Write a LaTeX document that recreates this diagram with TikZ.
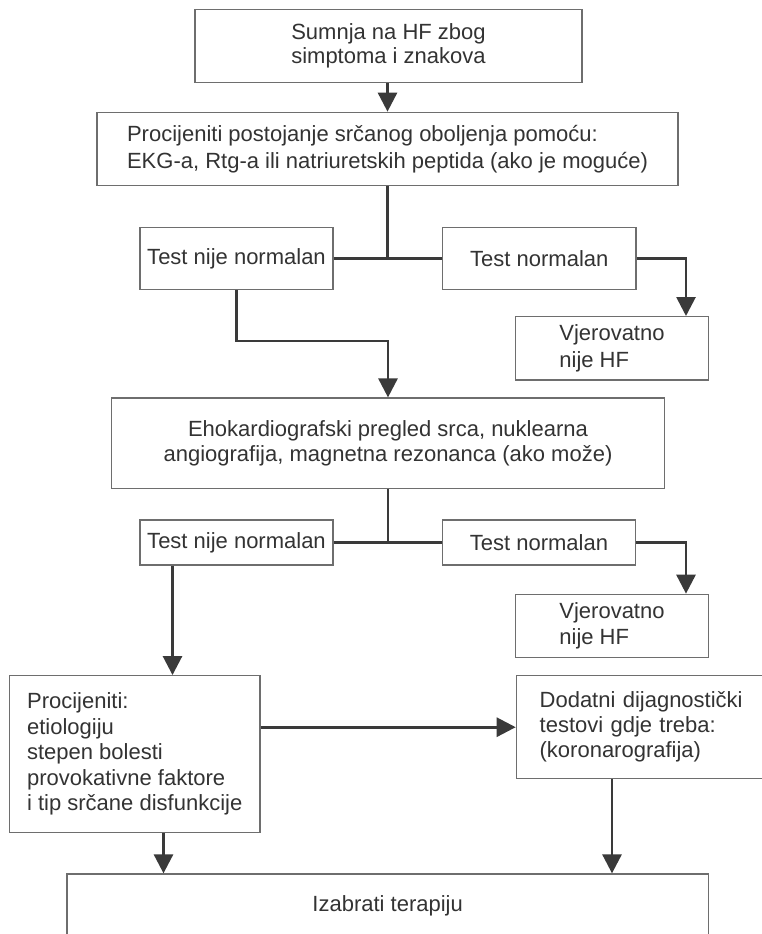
\documentclass[tikz,border=0pt]{standalone}
\usepackage{fontspec}
\setmainfont{Liberation Sans}
\usetikzlibrary{arrows.meta}
\definecolor{txtcol}{HTML}{333333}
\definecolor{bordcol}{HTML}{6E6E6E}
\definecolor{lncol}{HTML}{3A3A3A}
\begin{document}
\begin{tikzpicture}[x=1pt,y=-1pt,
  box/.style={draw=bordcol, line width=1.3pt, inner sep=0pt, text=txtcol,
    font=\fontsize{22}{25}\selectfont},
  conn/.style={draw=lncol, line width=2.8pt},
  arr/.style={conn, -{Triangle[width=19pt,length=19pt]}}]
\fill[white] (0,0) rectangle (762,934);
\useasboundingbox (0,0) rectangle (762,934);

\node[box, font=\fontsize{22}{24}\selectfont, align=center,
  minimum width=387pt, minimum height=73.4pt] (b1) at (388.5,46)
  {Sumnja na HF zbog\\simptoma i znakova};
\node[box, font=\fontsize{22}{27}\selectfont, align=left,
  minimum width=581pt, minimum height=73.4pt] (b2) at (387.5,149)
  {Procijeniti postojanje srčanog oboljenja pomoću:\\EKG-a, Rtg-a ili natriuretskih peptida (ako je moguće)};

\node[box, minimum width=193pt, minimum height=62pt] (t1a) at (236.5,258.7) {Test nije normalan};
\node[box, minimum width=193.5pt, minimum height=62pt] (t1b) at (539.3,258.7) {Test normalan};
\node[box, font=\fontsize{22}{26.5}\selectfont, align=left,
  minimum width=192.6pt, minimum height=63.3pt] (v1) at (612,348.3) {Vjerovatno\\nije HF};

\node[box, font=\fontsize{22}{25.5}\selectfont, align=center,
  minimum width=553pt, minimum height=90.3pt] (b3) at (388,443.2)
  {Ehokardiografski pregled srca, nuklearna\\angiografija, magnetna rezonanca (ako može)};

\node[box, minimum width=193pt, minimum height=45pt] (t2a) at (236.5,542.5) {Test nije normalan};
\node[box, minimum width=193pt, minimum height=45pt] (t2b) at (539,542.5) {Test normalan};
\node[box, font=\fontsize{22}{26.5}\selectfont, align=left,
  minimum width=192.6pt, minimum height=63.4pt] (v2) at (612,626) {Vjerovatno\\nije HF};

\node[box, font=\fontsize{22}{25.5}\selectfont, align=left,
  minimum width=250.7pt, minimum height=156.6pt] (p) at (134.7,754)
  {Procijeniti:\\etiologiju\\stepen bolesti\\provokativne faktore\\i tip srčane disfunkcije};
\node[box, anchor=west, inner xsep=23.3pt, text width=230pt, align=left,
  minimum height=103pt] (d) at (515.7,727.2)
  {Dodatni dijagnostički\\testovi gdje treba:\\(koronarografija)};

\node[box, text height=16pt, text depth=5pt,
  minimum width=641.3pt, minimum height=64.4pt] (iz) at (387.65,906.2) {Izabrati terapiju};

% connectors
\draw[arr] (b1.south -| b2.north) -- (b2.north);
\draw[conn] (b2.south) -- (b2.south |- t1a.east);
\draw[conn] (t1a.east) -- (t1b.west);
\draw[arr] (t1b.east) -| ([xshift=74pt]v1.north);
\coordinate (k1) at (236.5,341);
\draw[arr] (t1a.south) -- (k1) -| (b3.north);

\draw[conn] (b3.south) -- (b3.south |- t2a.east);
\draw[conn] (t2a.east) -- (t2b.west);
\draw[arr] (t2b.east) -| ([xshift=74pt]v2.north);
\coordinate (k2) at ([xshift=-64pt]t2a.south);
\draw[arr] (k2) -- (k2 |- p.north);

\draw[arr] (p.east |- d.west) -- (d.west);
\coordinate (k3) at ([xshift=28.8pt]p.south);
\draw[arr] (k3) -- (k3 |- iz.north);
\coordinate (k4) at ([xshift=96.3pt]d.south west);
\draw[arr] (k4) -- (k4 |- iz.north);
\end{tikzpicture}
\end{document}
